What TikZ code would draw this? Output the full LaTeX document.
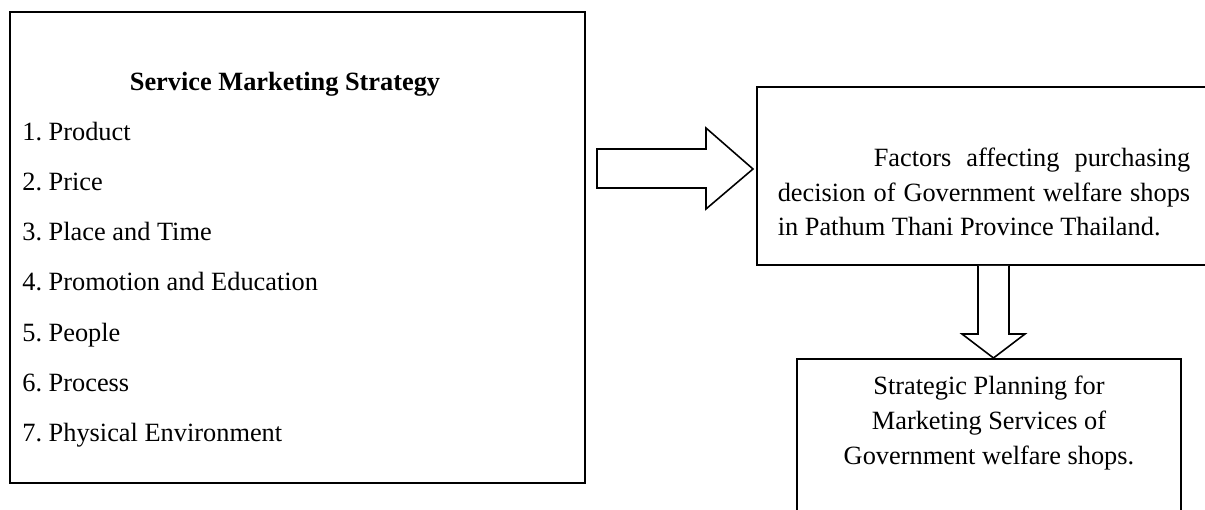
\documentclass[tikz,border=0pt]{standalone}
\usepackage{fontspec}
\setmainfont{Liberation Serif}
\usetikzlibrary{positioning}
\frenchspacing

\begin{document}
\begin{tikzpicture}[
  x=0.02cm, y=-0.02cm,
  every node/.style={font=\fontsize{15}{19.5}\selectfont, inner sep=0pt},
  panel/.style={draw, line width=0.9pt},
  itemtext/.style={anchor=base west},
  blockarrow/.style={draw, line width=0.9pt, fill=white, line join=miter}
]
\useasboundingbox (0,0) rectangle (1205,510);

% Left panel: marketing mix
\node[panel, line width=1.3pt, minimum width=11.5cm, minimum height=9.42cm] (mix) at (297.5,247.5) {};
\node[anchor=base, font=\fontsize{15}{19.5}\selectfont\bfseries] (mixtitle) at (285,91) {Service Marketing Strategy};
\foreach \i/\t in {1/Product, 2/Price, 3/Place and Time, 4/Promotion and Education,
                   5/People, 6/Process, 7/Physical Environment} {
  \node[itemtext] (item\i) at (22,{141+50*(\i-1)}) {\i. \t};
}

% Right panels (cut by the page edge)
\node[panel, minimum width=9.46cm, minimum height=3.56cm] (factorsbox) at (993.5,176) {};
\node[text width=8.25cm, align=justify] (factors) at (984,192)
  {\hspace*{1.92cm}Factors affecting purchasing decision of Government welfare shops in Pathum Thani Province Thailand.};
\node[panel, minimum width=7.68cm, minimum height=3.6cm] (planbox) at (989,449) {};
\node[align=center, font=\fontsize{15}{20}\selectfont] (plan) at (989,423)
  {Strategic Planning for\\Marketing Services of\\Government welfare shops.};

% Block arrows
\draw[blockarrow] (597,149) -- (706,149) -- (706,128) -- (753,169) -- (706,209) -- (706,188) -- (597,188) -- cycle;
\draw[blockarrow] (978,266) -- (978,334) -- (962,334) -- (993.5,358) -- (1025,334) -- (1009,334) -- (1009,266);

\end{tikzpicture}
\end{document}
